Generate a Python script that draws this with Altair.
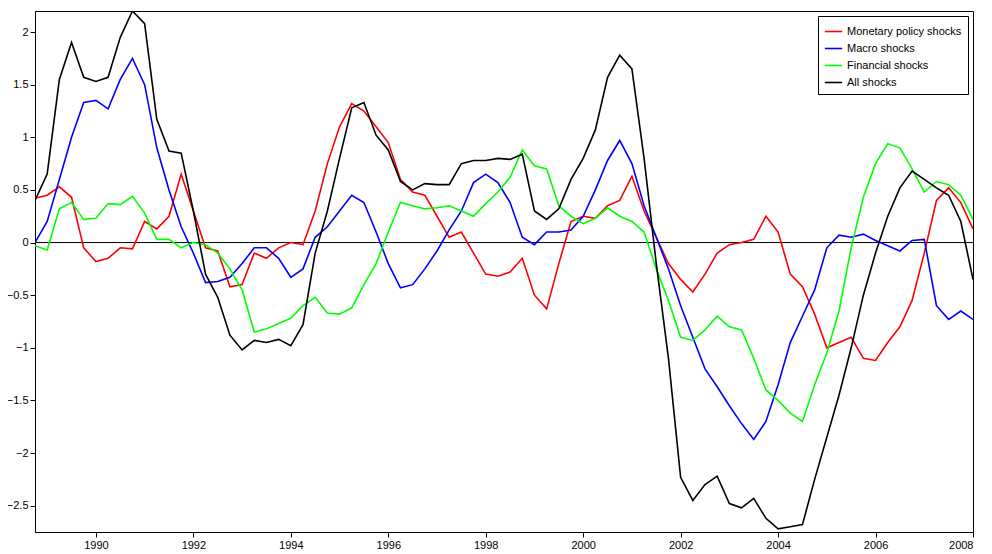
import altair as alt
import pandas as pd

# quarterly, 1988Q4 .. 2008Q1
start = 1988.75
monetary = [0.42, 0.45, 0.53, 0.43, -0.05, -0.18, -0.15, -0.05, -0.06, 0.20,
            0.13, 0.25, 0.65, 0.30, -0.05, -0.08, -0.42, -0.40, -0.10, -0.15,
            -0.05, 0.00, -0.02, 0.30, 0.75, 1.10, 1.32, 1.25, 1.10, 0.95,
            0.60, 0.48, 0.45, 0.25, 0.05, 0.10, -0.10, -0.30, -0.32, -0.28,
            -0.15, -0.50, -0.63, -0.20, 0.20, 0.25, 0.23, 0.35, 0.40, 0.63,
            0.30, 0.05, -0.20, -0.35, -0.47, -0.30, -0.10, -0.02, 0.00, 0.03,
            0.25, 0.10, -0.30, -0.42, -0.68, -1.00, -0.95, -0.90, -1.10, -1.12,
            -0.95, -0.80, -0.55, -0.10, 0.20, 0.40, 0.52, 0.38, 0.13][:77] + [0.13]
macro = [0.00, 0.20, 0.60, 1.00, 1.33, 1.35, 1.27, 1.55, 1.75, 1.50,
         0.90, 0.50, 0.15, -0.10, -0.38, -0.37, -0.33, -0.20, -0.05, -0.05,
         -0.15, -0.33, -0.25, 0.05, 0.15, 0.30, 0.45, 0.38, 0.10, -0.20,
         -0.43, -0.40, -0.25, -0.08, 0.12, 0.30, 0.57, 0.65, 0.57, 0.38,
         0.05, -0.02, 0.10, 0.10, 0.12, 0.25, 0.50, 0.78, 0.97, 0.75,
         0.35, 0.05, -0.25, -0.60, -0.90, -1.20, -1.37, -1.55, -1.72, -1.87,
         -1.70, -1.35, -0.95, -0.70, -0.45, -0.05, 0.07, 0.05, 0.08, 0.02,
         -0.03, -0.08, 0.02, 0.03, -0.20, -0.60, -0.73, -0.65, -0.73][:77] + [-0.73]
financial = [-0.03, -0.07, 0.32, 0.38, 0.22, 0.23, 0.37, 0.36, 0.44, 0.28,
             0.03, 0.03, -0.05, 0.00, -0.02, -0.10, -0.25, -0.45, -0.85, -0.82,
             -0.77, -0.72, -0.60, -0.52, -0.67, -0.68, -0.62, -0.40, -0.20, 0.10,
             0.38, 0.35, 0.32, 0.33, 0.35, 0.30, 0.25, 0.37, 0.48, 0.62,
             0.88, 0.73, 0.70, 0.35, 0.25, 0.18, 0.23, 0.33, 0.25, 0.20,
             0.10, -0.25, -0.55, -0.90, -0.93, -0.83, -0.70, -0.80, -0.83, -1.10,
             -1.40, -1.50, -1.62, -1.70, -1.35, -1.05, -0.65, -0.05, 0.43, 0.75,
             0.94, 0.90, 0.70, 0.48, 0.58, 0.55, 0.45, 0.22]
all_shocks = [0.40, 0.65, 1.55, 1.90, 1.57, 1.53, 1.57, 1.95, 2.20, 2.08,
              1.17, 0.87, 0.85, 0.30, -0.30, -0.52, -0.88, -1.02, -0.93, -0.95,
              -0.92, -0.98, -0.78, -0.10, 0.30, 0.80, 1.28, 1.33, 1.02, 0.88,
              0.58, 0.50, 0.56, 0.55, 0.55, 0.75, 0.78, 0.78, 0.80, 0.79,
              0.84, 0.30, 0.22, 0.32, 0.60, 0.80, 1.07, 1.57, 1.78, 1.65,
              0.80, -0.20, -1.10, -2.23, -2.45, -2.30, -2.22, -2.48, -2.52, -2.43,
              -2.62, -2.72, -2.70, -2.68, -2.25, -1.85, -1.45, -1.00, -0.50, -0.10,
              0.25, 0.52, 0.68, 0.60, 0.52, 0.45, 0.20, -0.35]

# shift red peak / blue ending to match the reference
monetary[74:78] = [0.40, 0.52, 0.38, 0.13]
macro[74:78] = [-0.60, -0.73, -0.65, -0.73]

names = ["Monetary policy shocks", "Macro shocks", "Financial shocks", "All shocks"]
colors = ["#ff0000", "#0000ff", "#00ff00", "#000000"]
series = [monetary, macro, financial, all_shocks]

rows = []
for name, vals in zip(names, series):
    for i, v in enumerate(vals):
        rows.append({"t": start + 0.25 * i, "value": v, "series": name})
df = pd.DataFrame(rows)

x = alt.X("t:Q", scale=alt.Scale(domain=[start, 2008], nice=False, zero=False),
          axis=alt.Axis(values=list(range(1990, 2009, 2)), format="d", title=None,
                        grid=False, tickColor="black", domainColor="black",
                        labelColor="black", labelFontSize=11, labelFont="Arial"))
y = alt.Y("value:Q", scale=alt.Scale(domain=[-2.75, 2.2], nice=False),
          axis=alt.Axis(values=[-2.5, -2, -1.5, -1, -0.5, 0, 0.5, 1, 1.5, 2], title=None,
                        format="~g", grid=False, tickColor="black", domainColor="black",
                        labelColor="black", labelFontSize=11, labelFont="Arial"))

lines = alt.Chart(df).mark_line(strokeWidth=1.6, clip=True).encode(
    x=x, y=y,
    color=alt.Color("series:N", scale=alt.Scale(domain=names, range=colors),
                    legend=alt.Legend(title=None, orient="top-right", offset=5,
                                      fillColor="white", strokeColor="black",
                                      padding=6, symbolType="stroke", symbolSize=300,
                                      symbolStrokeWidth=1.6, labelFontSize=11,
                                      labelFont="Arial", labelColor="black", rowPadding=2)),
    detail="series:N",
)

zero = alt.Chart(pd.DataFrame({"v": [0]})).mark_rule(color="black", strokeWidth=1).encode(y="v:Q")

chart = alt.layer(zero, lines).properties(
    width=938, height=521,
    autosize=alt.AutoSizeParams(type="none"),
    padding={"left": 27, "top": 3, "right": 10, "bottom": 22},
).configure_view(stroke="black", strokeWidth=1)

chart.save("out.html", embed_options={"renderer": "svg", "actions": False})
